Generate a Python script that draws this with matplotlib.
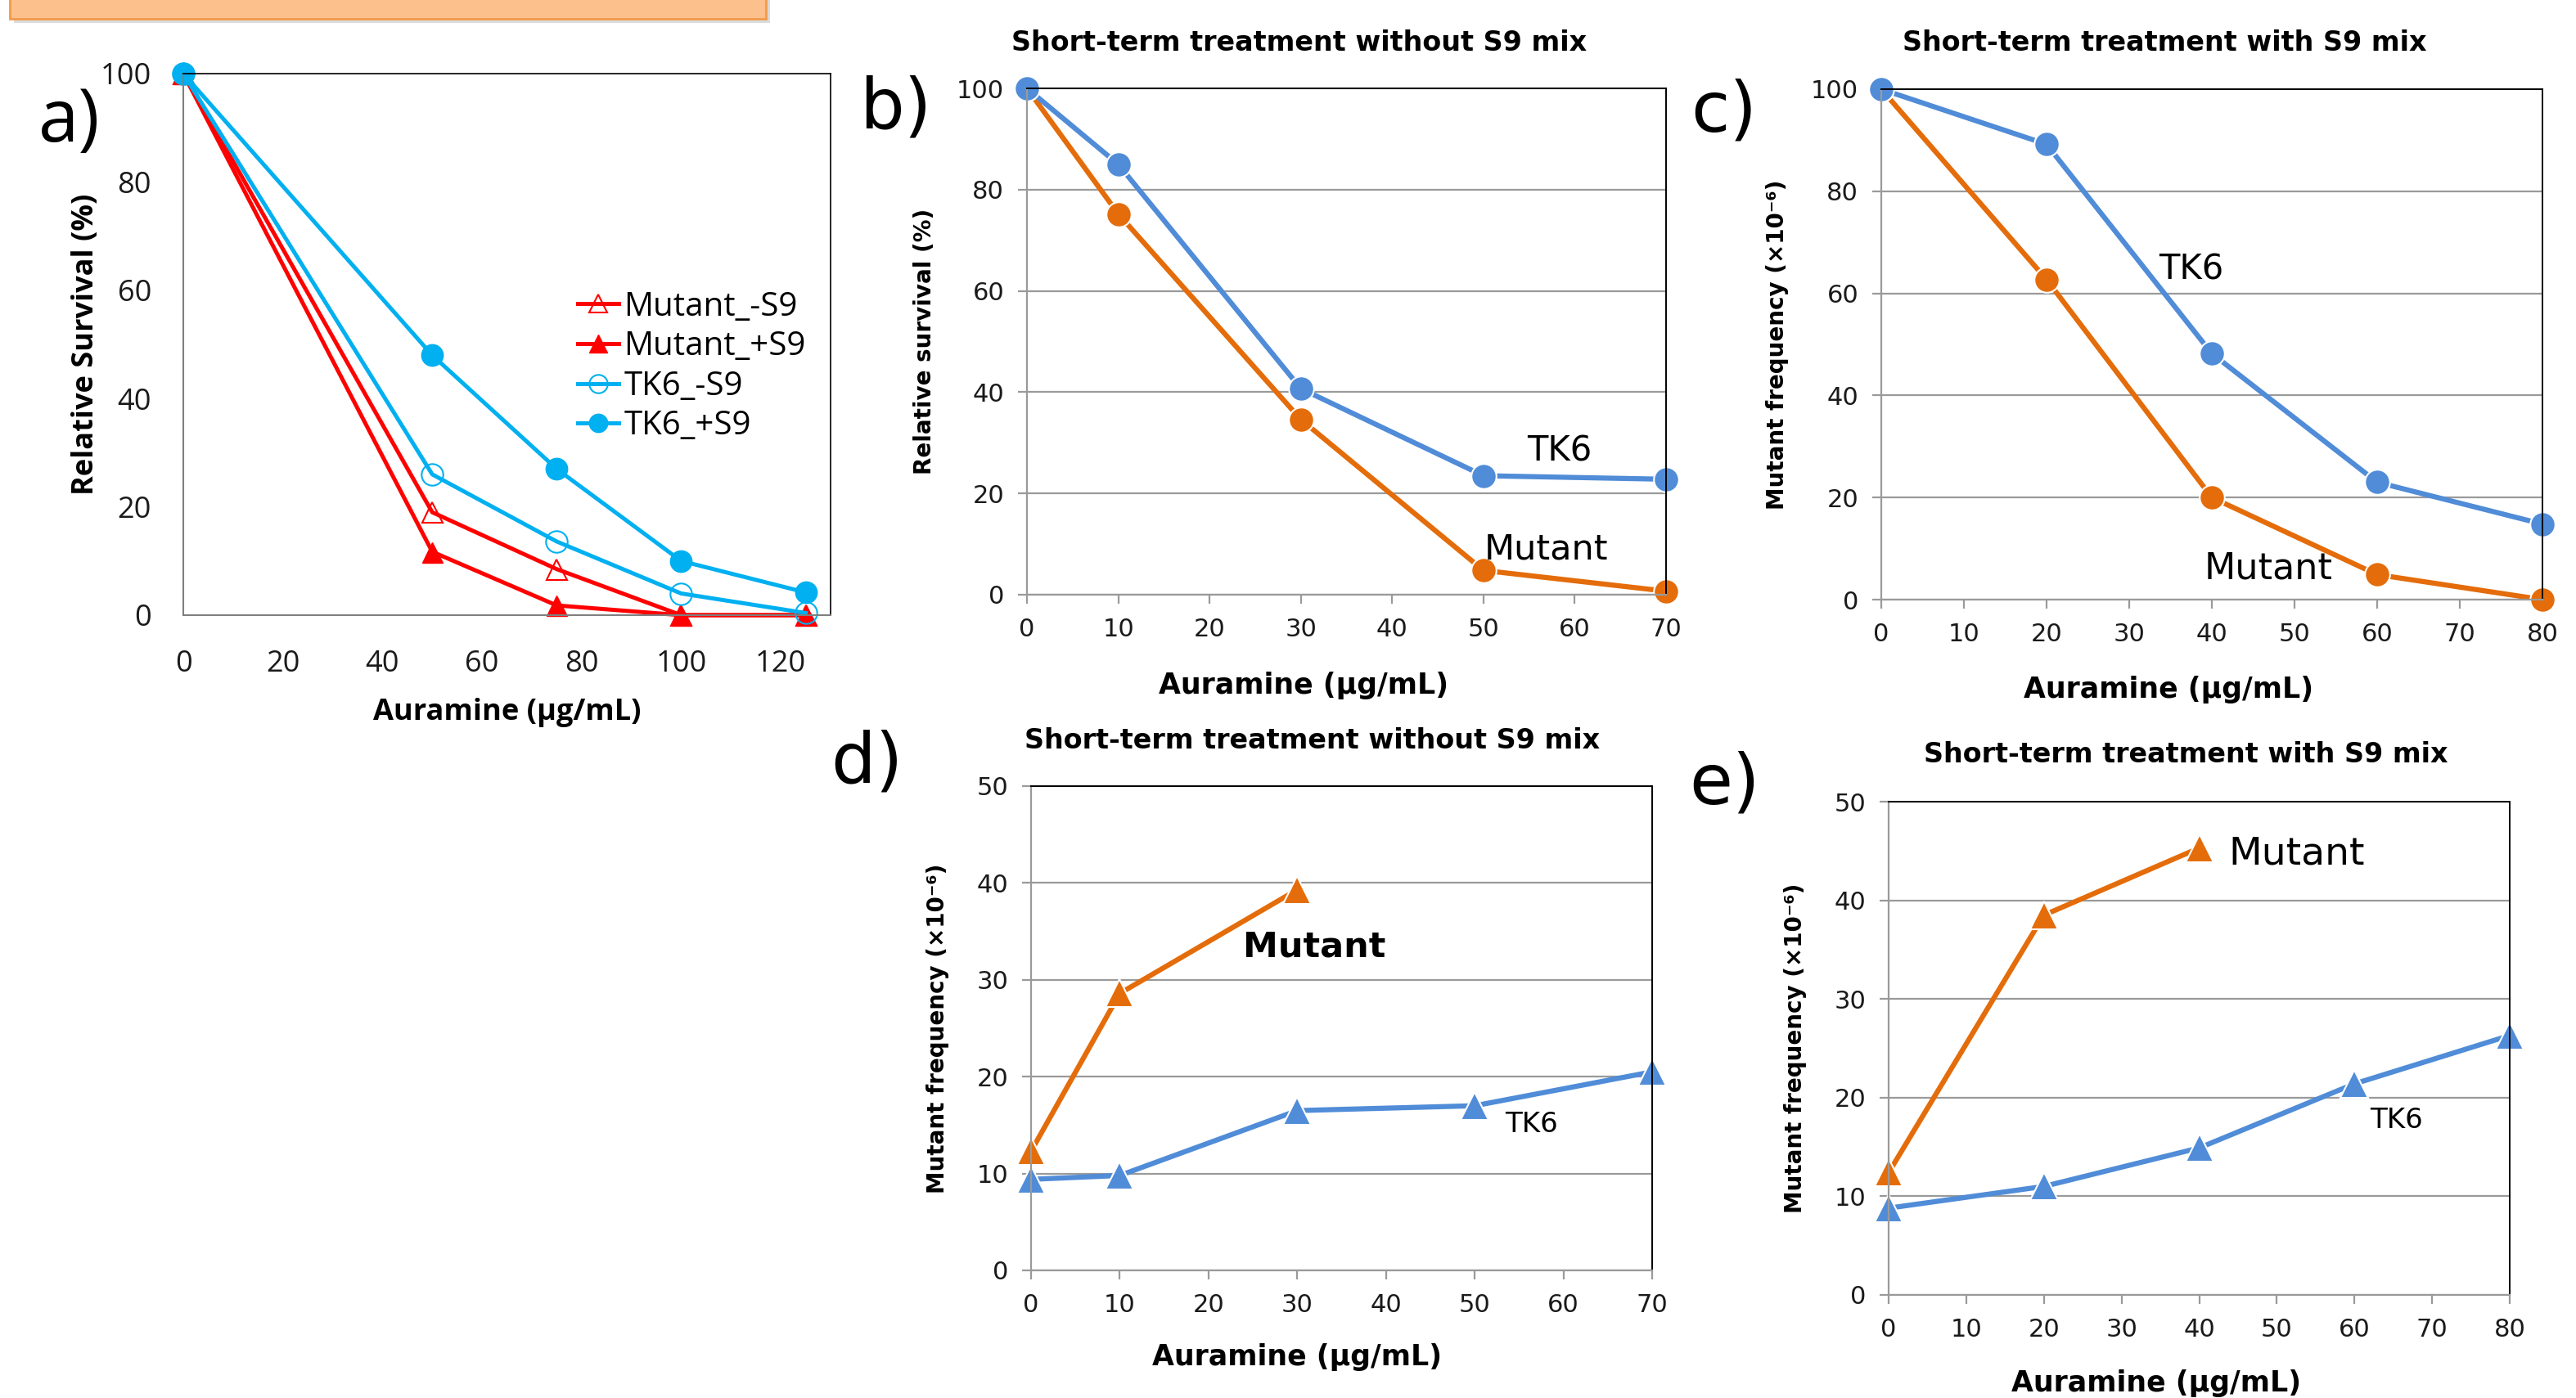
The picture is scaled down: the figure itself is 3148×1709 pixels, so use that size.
import matplotlib
matplotlib.use('Agg')
import matplotlib.pyplot as plt
from matplotlib.patches import Rectangle

# ---------------- data ----------------
a_dose = [0, 50, 75, 100, 125]
a_mut_minus = [100, 19, 8.5, 0, 0]
a_mut_plus = [100, 11.7, 1.8, 0, 0]
a_tk6_minus = [100, 26, 13.6, 4, 0.4]
a_tk6_plus = [100, 48, 27, 10, 4.2]
a_labels = ['Mutant_-S9', 'Mutant_+S9', 'TK6_-S9', 'TK6_+S9']

b_dose = [0, 10, 30, 50, 70]
b_tk6 = [100, 85, 40.7, 23.5, 22.8]
b_mut = [100, 75.2, 34.6, 4.8, 0.7]

c_dose = [0, 20, 40, 60, 80]
c_tk6 = [100, 89.2, 48.2, 23, 14.8]
c_mut = [100, 62.7, 20, 4.9, 0]

d_dose_mut = [0, 10, 30]
d_mut = [12.3, 28.6, 39.3]
d_dose_tk6 = [0, 10, 30, 50, 70]
d_tk6 = [9.4, 9.8, 16.5, 17, 20.5]

e_dose_mut = [0, 20, 40]
e_mut = [12.4, 38.5, 45.3]
e_dose_tk6 = [0, 20, 40, 60, 80]
e_tk6 = [8.8, 11, 14.9, 21.4, 26.3]

title_without = 'Short-term treatment without S9 mix'
title_with = 'Short-term treatment with S9 mix'
xlab = 'Auramine (µg/mL)'
ylab_surv = 'Relative survival (%)'
ylab_mf = 'Mutant frequency (×10⁻⁶)'

# ---------------- style ----------------
W, H = 3148, 1709
fig = plt.figure(figsize=(W / 100, H / 100), dpi=100)
plt.rcParams['font.family'] = ['DejaVu Sans']

RED = '#FF0000'
CYAN = '#00B0F0'
ORANGE = '#E46C0A'
BLUE = '#508CD7'
GRID = '#9A9A9A'
TXT = '#1a1a1a'


def px_axes(l, t, r, b):
    return fig.add_axes([l / W, 1 - b / H, (r - l) / W, (b - t) / H])


# orange banner (top-left)
fig.patches.append(Rectangle((17 / W, 1 - 28 / H), 924 / W, 60 / H, transform=fig.transFigure,
                             facecolor='#9a9a9a', alpha=0.35, edgecolor='none', zorder=0))
fig.patches.append(Rectangle((12 / W, 1 - 23 / H), 924 / W, 60 / H, transform=fig.transFigure,
                             facecolor='#FCC08C', edgecolor='#F29A4C', lw=2, zorder=1))

# ---------------- panel a ----------------
axa = px_axes(224, 90, 1015, 752)
lw_a, ms_a = 3.6, 18
axa.plot(a_dose, a_mut_minus, color=RED, lw=lw_a, marker='^', ms=ms_a, mfc='none', mec=RED, mew=1.5,
         label=a_labels[0], clip_on=False)
axa.plot(a_dose, a_mut_plus, color=RED, lw=lw_a, marker='^', ms=ms_a, mfc=RED, mec=RED,
         label=a_labels[1], clip_on=False)
axa.plot(a_dose, a_tk6_minus, color=CYAN, lw=lw_a, marker='o', ms=19, mfc='none', mec=CYAN, mew=1.5,
         label=a_labels[2], clip_on=False)
axa.plot(a_dose, a_tk6_plus, color=CYAN, lw=lw_a, marker='o', ms=19, mfc=CYAN, mec=CYAN,
         label=a_labels[3], clip_on=False)
axa.set_xlim(0, 130)
axa.set_ylim(0, 100)
axa.set_xticks(range(0, 121, 20))
axa.set_yticks(range(0, 101, 20))
axa.tick_params(length=0, labelsize=26, labelcolor=TXT)
axa.tick_params(axis='x', pad=30)
axa.tick_params(axis='y', pad=28)
for lab in axa.get_xticklabels() + axa.get_yticklabels():
    lab.set_family('Open Sans')
for s in ['top', 'right']:
    axa.spines[s].set_color('black')
    axa.spines[s].set_linewidth(1.2)
for s in ['left', 'bottom']:
    axa.spines[s].set_color('#7f7f7f')
    axa.spines[s].set_linewidth(1.5)
axa.set_xlabel(xlab, fontsize=26, fontweight='bold', family='Open Sans')
axa.set_ylabel('Relative Survival (%)', fontsize=26, fontweight='bold', family='Open Sans')
axa.xaxis.set_label_coords(0.5, -0.18)
axa.xaxis.label.set_va('center')
axa.yaxis.set_label_coords(-0.150, 0.5)
axa.yaxis.label.set_va('center')
axa.legend(loc='upper left', bbox_to_anchor=(706 / W, 1 - 355 / H), bbox_transform=fig.transFigure,
           frameon=False, prop={'family': 'Open Sans', 'size': 29}, handlelength=1.25,
           handletextpad=0.15, labelspacing=0.2, borderpad=0, borderaxespad=0, markerscale=0.85)


# ---------------- panels b-e ----------------
def style_excel(ax, xmax, ymax, ystep):
    ax.set_xlim(0, xmax)
    ax.set_ylim(0, ymax)
    ax.set_xticks(range(0, xmax + 1, 10))
    ax.set_yticks(range(0, ymax + 1, ystep))
    ax.grid(axis='y', color=GRID, lw=1.6)
    ax.set_axisbelow(True)
    for s in ['top', 'right']:
        ax.spines[s].set_color('black')
        ax.spines[s].set_linewidth(1.4)
    for s in ['left', 'bottom']:
        ax.spines[s].set_color(GRID)
        ax.spines[s].set_linewidth(1.6)
    ax.tick_params(direction='out', length=8, width=1.6, color=GRID, labelsize=22, labelcolor=TXT)
    ax.tick_params(axis='x', pad=12)
    ax.tick_params(axis='y', pad=12)


def set_labels(ax, ylabel, xc, yc, yx, yy):
    ax.set_xlabel(xlab, fontsize=25, fontweight='bold')
    ax.set_ylabel(ylabel, fontsize=20, fontweight='bold')
    ax.xaxis.set_label_coords(xc, yc)
    ax.xaxis.label.set_va('center')
    ax.yaxis.set_label_coords(yx, yy)
    ax.yaxis.label.set_va('center')


circ = dict(lw=4.5, marker='o', ms=22, mec='white', mew=1.5, clip_on=False)
tri = dict(lw=4.5, marker='^', ms=24, mec='white', mew=1.5, clip_on=False)

# b
axb = px_axes(1255, 108, 2036, 727)
style_excel(axb, 70, 100, 20)
axb.plot(b_dose, b_mut, color=ORANGE, **circ)
axb.plot(b_dose, b_tk6, color=BLUE, **circ)
axb.text(58.3, 28.4, 'TK6', fontsize=30, ha='center', va='center')
axb.text(56.9, 9.0, 'Mutant', fontsize=31, ha='center', va='center')
set_labels(axb, ylab_surv, 0.433, -0.179, -0.160, 0.5)
axb.text(0.426, 1.090, title_without, transform=axb.transAxes, fontsize=24, fontweight='bold',
         ha='center', va='center')

# c
axc = px_axes(2299, 109, 3107, 733)
style_excel(axc, 80, 100, 20)
axc.plot(c_dose, c_mut, color=ORANGE, **circ)
axc.plot(c_dose, c_tk6, color=BLUE, **circ)
axc.text(37.5, 64.6, 'TK6', fontsize=30, ha='center', va='center')
axc.text(46.8, 6.1, 'Mutant', fontsize=32, ha='center', va='center')
set_labels(axc, ylab_mf, 0.434, -0.176, -0.157, 0.5)
axc.text(0.428, 1.091, title_with, transform=axc.transAxes, fontsize=24, fontweight='bold',
         ha='center', va='center')

# d
axd = px_axes(1260, 961, 2019, 1553)
style_excel(axd, 70, 50, 10)
axd.plot(d_dose_mut, d_mut, color=ORANGE, **tri)
axd.plot(d_dose_tk6, d_tk6, color=BLUE, **tri)
axd.text(31.9, 33.4, 'Mutant', fontsize=31, fontweight='bold', ha='center', va='center')
axd.text(56.4, 15.1, 'TK6', fontsize=24.5, ha='center', va='center')
set_labels(axd, ylab_mf, 0.428, -0.179, -0.150, 0.5)
axd.text(0.453, 1.093, title_without, transform=axd.transAxes, fontsize=24, fontweight='bold',
         ha='center', va='center')

# e
axe = px_axes(2308, 980, 3067, 1583)
style_excel(axe, 80, 50, 10)
axe.plot(e_dose_mut, e_mut, color=ORANGE, **tri)
axe.plot(e_dose_tk6, e_tk6, color=BLUE, **tri)
axe.text(52.6, 44.7, 'Mutant', fontsize=34, ha='center', va='center')
axe.text(65.4, 17.7, 'TK6', fontsize=24.5, ha='center', va='center')
set_labels(axe, ylab_mf, 0.431, -0.179, -0.150, 0.5)
axe.text(0.478, 1.096, title_with, transform=axe.transAxes, fontsize=24, fontweight='bold',
         ha='center', va='center')

# panel letters
fig.text(47 / W, 1 - 173 / H, 'a)', fontsize=64, family='Open Sans', ha='left', va='baseline')
fig.text(1050 / W, 1 - 157 / H, 'b)', fontsize=62, ha='left', va='baseline')
fig.text(2066 / W, 1 - 160 / H, 'c)', fontsize=62, ha='left', va='baseline')
fig.text(1015 / W, 1 - 957 / H, 'd)', fontsize=62, ha='left', va='baseline')
fig.text(2064 / W, 1 - 982 / H, 'e)', fontsize=62, ha='left', va='baseline')

fig.savefig('out.png', dpi=100, facecolor='white')
